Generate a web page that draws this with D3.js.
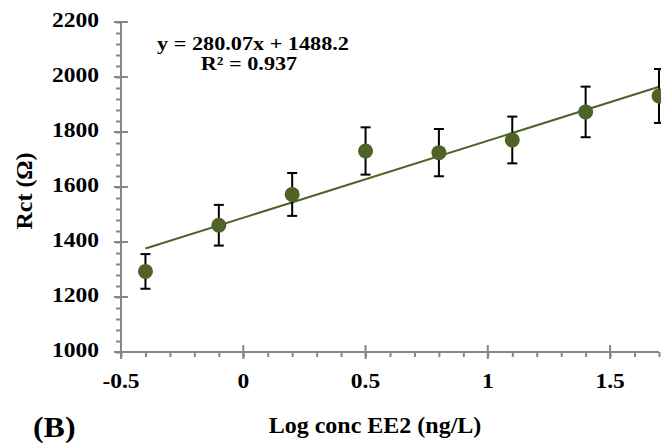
<!DOCTYPE html>
<html>
<head>
<meta charset="utf-8">
<script src="https://cdn.jsdelivr.net/npm/d3@7"></script>
<style>
  html, body { margin: 0; padding: 0; background: #fff; }
  svg { display: block; }
  text { font-family: "Liberation Serif", "Times New Roman", serif; font-weight: bold; fill: #000; }
</style>
</head>
<body>
<svg id="chart" width="661" height="443"></svg>
<script>
// Log concentration of EE2 (ng/L)
const logConc = [-0.4, -0.1, 0.2, 0.5, 0.8, 1.1, 1.4, 1.7];
// Charge-transfer resistance Rct (Ω), mean values
const rct = [1293, 1461, 1573, 1731, 1725, 1771, 1873, 1931];
// Error bar half-heights (Ω)
const rctErr = [63, 74, 78, 86, 86, 85, 92, 98];

// Linear fit: y = slope * x + intercept
const fitSlope = 280.07;
const fitIntercept = 1488.2;
const fitR2 = 0.937;

const xTicks = [-0.5, 0, 0.5, 1, 1.5];
const xTickLabels = ["-0.5", "0", "0.5", "1", "1.5"];
const yTicks = [1000, 1200, 1400, 1600, 1800, 2000, 2200];

const svg = d3.select("#chart");
const axisColor = "#868686";
const green = "#4f6228";

const x = d3.scaleLinear().domain([-0.5, 1.7]).range([121, 659]);
const y = d3.scaleLinear().domain([1000, 2200]).range([352, 22]);

// Bold serif label, slightly widened horizontally
function label(parent, tx, ty, str, size, anchor, sx, rot) {
  const t = parent.append("text")
    .attr("transform", `translate(${tx},${ty})${rot ? ` rotate(${rot})` : ""} scale(${sx},1)`)
    .attr("text-anchor", anchor)
    .style("font-size", size + "px")
    .text(str);
  return t;
}

// ---- Y axis ----
const yAxisG = svg.append("g").attr("transform", `translate(${x(-0.5)},0)`);
// minor ticks (outside, left)
yAxisG.call(d3.axisLeft(y).tickValues(d3.range(1000, 2201, 40)).tickSize(5).tickFormat(""))
  .call(g => g.select(".domain").remove());
// major ticks crossing the axis
yAxisG.call(g => g.selectAll(".major").data(yTicks).join("line")
  .attr("class", "major").attr("x1", -7).attr("x2", 7)
  .attr("y1", d => y(d)).attr("y2", d => y(d)));
yAxisG.append("line").attr("y1", y(1000)).attr("y2", y(2200));
yAxisG.selectAll("line").attr("stroke", axisColor).attr("stroke-width", 2);
yTicks.forEach(d => label(yAxisG, -22, y(d) + 5, d, 21, "end", 1.12));

// ---- X axis ----
const xAxisG = svg.append("g").attr("transform", `translate(0,${y(1000)})`);
xAxisG.call(d3.axisBottom(x).tickValues(d3.range(-5, 18, 1).map(d => d / 10)).tickSize(5).tickFormat(""))
  .call(g => g.select(".domain").remove());
xAxisG.call(g => g.selectAll(".major").data(xTicks).join("line")
  .attr("class", "major").attr("y1", -7).attr("y2", 7)
  .attr("x1", d => x(d)).attr("x2", d => x(d)));
xAxisG.append("line").attr("x1", x(-0.5)).attr("x2", x(1.7));
xAxisG.selectAll("line").attr("stroke", axisColor).attr("stroke-width", 2);
xTicks.forEach((d, i) => label(xAxisG, x(d), 36, xTickLabels[i], 21, "middle", 1.12));

// ---- Trend line ----
const fitX = d3.extent(logConc);
svg.append("line")
  .attr("x1", x(fitX[0])).attr("y1", y(fitSlope * fitX[0] + fitIntercept))
  .attr("x2", x(fitX[1])).attr("y2", y(fitSlope * fitX[1] + fitIntercept))
  .attr("stroke", green).attr("stroke-width", 2);

// ---- Error bars ----
const data = logConc.map((d, i) => ({ x: d, y: rct[i], e: rctErr[i] }));
const eb = svg.append("g").attr("stroke", "#000").attr("stroke-width", 2);
eb.selectAll(".stem").data(data).join("line").attr("class", "stem")
  .attr("x1", d => x(d.x)).attr("x2", d => x(d.x))
  .attr("y1", d => y(d.y - d.e)).attr("y2", d => y(d.y + d.e));
eb.selectAll(".capT").data(data).join("line").attr("class", "capT")
  .attr("x1", d => x(d.x) - 5).attr("x2", d => x(d.x) + 5)
  .attr("y1", d => y(d.y + d.e)).attr("y2", d => y(d.y + d.e));
eb.selectAll(".capB").data(data).join("line").attr("class", "capB")
  .attr("x1", d => x(d.x) - 5).attr("x2", d => x(d.x) + 5)
  .attr("y1", d => y(d.y - d.e)).attr("y2", d => y(d.y - d.e));

// ---- Markers ----
svg.append("g").selectAll("circle").data(data).join("circle")
  .attr("cx", d => x(d.x)).attr("cy", d => y(d.y)).attr("r", 7.5)
  .attr("fill", green);

// ---- Equation ----
label(svg, 253, 50, `y = ${fitSlope}x + ${fitIntercept}`, 19, "middle", 1.17);
label(svg, 249, 70, `R² = ${fitR2}`, 19, "middle", 1.17);

// ---- Axis titles ----
label(svg, 375, 433, "Log conc EE2 (ng/L)", 24, "middle", 1.0);
label(svg, 32, 191, "Rct (Ω)", 24, "middle", 1.0, -90);
label(svg, 33, 437, "(B)", 29, "start", 1.1);
</script>
</body>
</html>
